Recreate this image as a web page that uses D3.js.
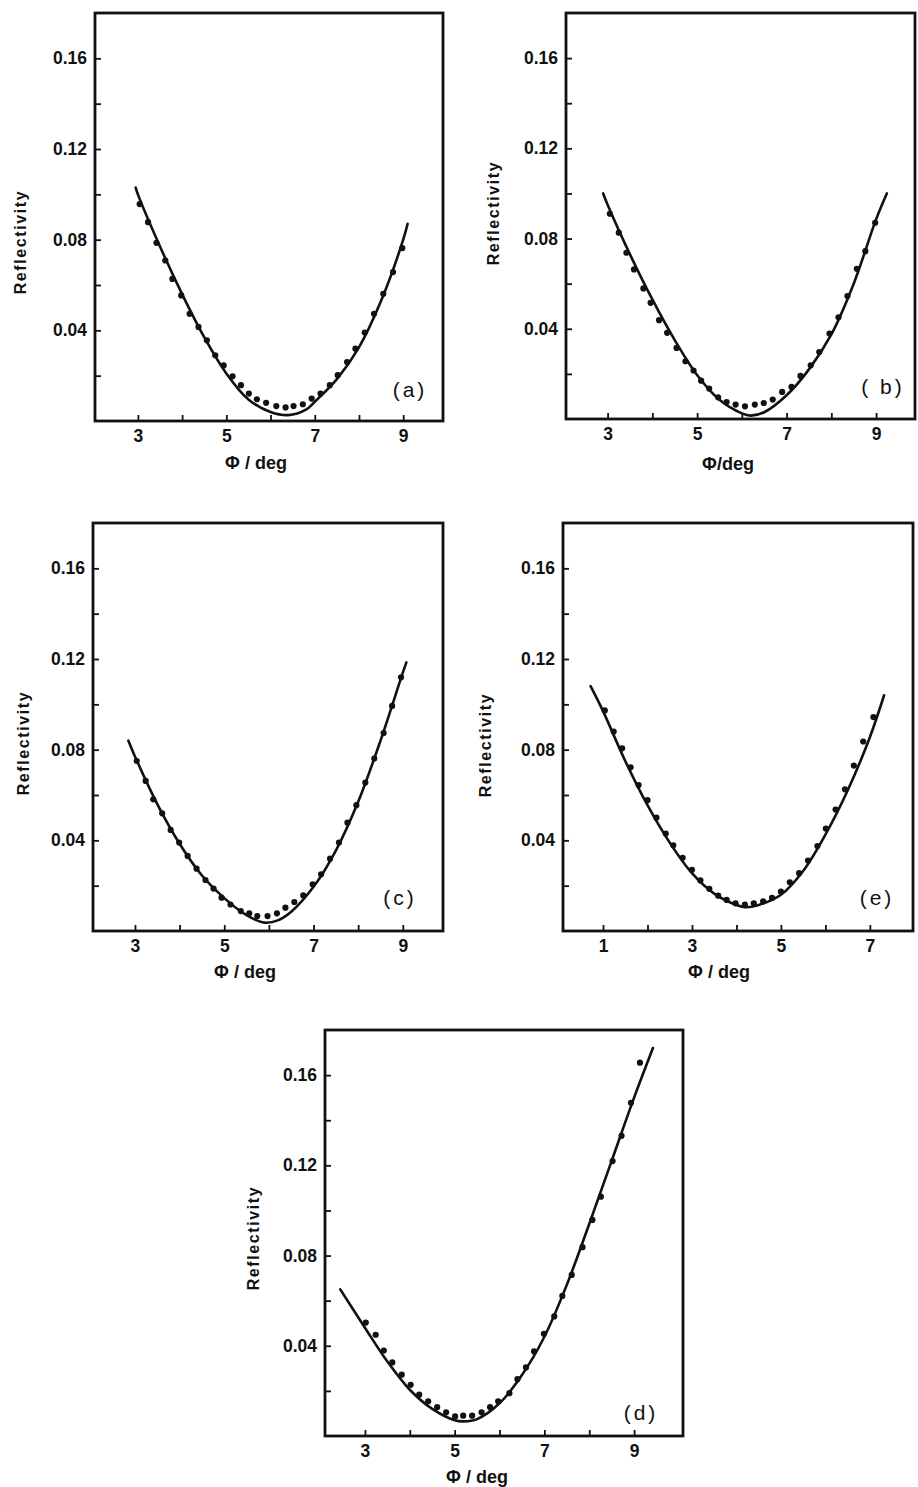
<!DOCTYPE html>
<html>
<head>
<meta charset="utf-8">
<script src="https://cdn.jsdelivr.net/npm/d3@7"></script>
<style>
  body { margin: 0; background: #fff; }
  svg text { font-family: "Liberation Sans", Arial, sans-serif; fill: #111; }
</style>
</head>
<body>
<div id="chart"></div>
<script>
// tick values
var yMajor = [0.04, 0.08, 0.12, 0.16],
    yMinor = [0.02, 0.06, 0.10, 0.14];
var xMajor = [3, 5, 7, 9], xMinor = [4, 6, 8];
var xMajorE = [1, 3, 5, 7], xMinorE = [2, 4, 6];

// (a) measured points + fitted curve
var phiA = [3.04,3.23,3.42,3.62,3.78,3.98,4.17,4.37,4.56,4.75,4.94,5.14,5.33,5.51,5.69,5.90,6.13,6.34,6.52,6.73,6.93,7.13,7.34,7.52,7.73,7.92,8.13,8.34,8.55,8.77,8.98];
var reflA = [0.0957,0.0877,0.0786,0.0708,0.0627,0.0554,0.0473,0.0415,0.0356,0.0290,0.0245,0.0197,0.0158,0.0121,0.0096,0.0080,0.0066,0.0060,0.0066,0.0074,0.0099,0.0121,0.0158,0.0202,0.0260,0.0319,0.0390,0.0473,0.0561,0.0657,0.0763];
var fitPhiA = [2.95,3.0,3.5,4.0,4.5,5.0,5.5,6.0,6.4,6.8,7.0,7.5,8.0,8.5,9.0,9.1];
var fitA = [0.103,0.100,0.077,0.056,0.037,0.021,0.0095,0.0040,0.0026,0.0050,0.0085,0.0185,0.0325,0.053,0.080,0.087];

// (b)
var phiB = [3.05,3.25,3.42,3.59,3.80,3.96,4.15,4.33,4.54,4.74,4.92,5.09,5.27,5.47,5.66,5.86,6.07,6.29,6.49,6.69,6.90,7.11,7.31,7.54,7.73,7.96,8.16,8.36,8.57,8.76,8.98];
var reflB = [0.0910,0.0826,0.0737,0.0663,0.0579,0.0515,0.0438,0.0382,0.0315,0.0256,0.0215,0.0170,0.0135,0.0096,0.0075,0.0064,0.0056,0.0064,0.0071,0.0086,0.0120,0.0142,0.0191,0.0238,0.0297,0.0379,0.0451,0.0545,0.0666,0.0744,0.0870];
var fitPhiB = [2.9,3.0,3.5,4.0,4.5,5.0,5.5,6.0,6.2,6.5,7.0,7.5,8.0,8.5,9.0,9.24];
var fitB = [0.100,0.095,0.073,0.053,0.035,0.0195,0.0085,0.0025,0.0015,0.0030,0.0105,0.022,0.0375,0.060,0.0885,0.100];

// (c)
var phiC = [3.04,3.24,3.41,3.61,3.80,3.99,4.18,4.38,4.58,4.76,4.94,5.14,5.37,5.56,5.74,5.97,6.18,6.37,6.57,6.77,6.98,7.17,7.37,7.57,7.76,7.96,8.16,8.36,8.57,8.76,8.96];
var reflC = [0.0750,0.0662,0.0581,0.0519,0.0446,0.0390,0.0331,0.0275,0.0225,0.0187,0.0147,0.0117,0.0088,0.0078,0.0066,0.0066,0.0078,0.0103,0.0128,0.0157,0.0206,0.0250,0.0319,0.0390,0.0478,0.0555,0.0655,0.0761,0.0873,0.0993,0.1119];
var fitPhiC = [2.85,3.0,3.5,4.0,4.5,5.0,5.5,5.9,6.2,6.5,7.0,7.5,8.0,8.5,9.0,9.08];
var fitC = [0.084,0.077,0.056,0.0385,0.0245,0.0145,0.0070,0.0037,0.0047,0.0085,0.0195,0.0355,0.0570,0.0840,0.1140,0.1185];

// (e)
var phiE = [1.04,1.24,1.43,1.62,1.80,2.00,2.20,2.41,2.58,2.79,3.00,3.19,3.39,3.59,3.78,3.98,4.19,4.39,4.60,4.80,5.00,5.20,5.41,5.61,5.82,6.01,6.23,6.44,6.64,6.85,7.08];
var reflE = [0.0973,0.0880,0.0806,0.0722,0.0644,0.0577,0.0500,0.0430,0.0378,0.0323,0.0270,0.0223,0.0186,0.0156,0.0137,0.0122,0.0116,0.0122,0.0131,0.0146,0.0174,0.0215,0.0255,0.0311,0.0375,0.0452,0.0536,0.0625,0.0730,0.0836,0.0944];
var fitPhiE = [0.72,1.0,1.5,2.0,2.5,3.0,3.5,4.0,4.2,4.5,5.0,5.5,6.0,6.5,7.0,7.32];
var fitE = [0.108,0.097,0.075,0.0555,0.039,0.0255,0.0165,0.0115,0.0105,0.0115,0.016,0.0265,0.0425,0.062,0.0855,0.104];

// (d)
var phiD = [3.02,3.24,3.42,3.61,3.82,4.02,4.21,4.41,4.61,4.81,5.01,5.19,5.39,5.60,5.79,5.97,6.22,6.40,6.59,6.77,6.99,7.22,7.40,7.61,7.85,8.07,8.26,8.52,8.72,8.93,9.13];
var reflD = [0.0503,0.0449,0.0379,0.0326,0.0272,0.0227,0.0183,0.0154,0.0128,0.0105,0.0087,0.0090,0.0090,0.0105,0.0128,0.0154,0.0190,0.0252,0.0304,0.0375,0.0453,0.0530,0.0621,0.0714,0.0837,0.0958,0.1061,0.1219,0.1331,0.1477,0.1655];
var fitPhiD = [2.45,3.0,3.5,4.0,4.5,5.0,5.2,5.5,6.0,6.5,7.0,7.5,8.0,8.5,9.0,9.42];
var fitD = [0.065,0.048,0.033,0.0205,0.0120,0.0070,0.0065,0.0075,0.0145,0.027,0.044,0.067,0.094,0.122,0.150,0.172];

// layout of each panel (page pixels)
var panels = [
  {tag: "(a)", phi: phiA, refl: reflA, fitPhi: fitPhiA, fit: fitA, xDomain: [2.03, 9.9],
   left: 95, right: 443, top: 13, bottom: 421, xMajor: xMajor, xMinor: xMinor,
   xTitle: "\u03A6 / deg", xTitleX: 256, xTitleY: 469, yTitleX: 20, yTitleY: 242, tagX: 410, tagY: 397},
  {tag: "( b)", phi: phiB, refl: reflB, fitPhi: fitPhiB, fit: fitB, xDomain: [2.07, 9.87],
   left: 566, right: 915, top: 13, bottom: 419, xMajor: xMajor, xMinor: xMinor,
   xTitle: "\u03A6/deg", xTitleX: 728, xTitleY: 470, yTitleX: 493, yTitleY: 213, tagX: 883, tagY: 394},
  {tag: "(c)", phi: phiC, refl: reflC, fitPhi: fitPhiC, fit: fitC, xDomain: [2.06, 9.9],
   left: 93, right: 443, top: 523, bottom: 931, xMajor: xMajor, xMinor: xMinor,
   xTitle: "\u03A6 / deg", xTitleX: 245, xTitleY: 978, yTitleX: 23, yTitleY: 743, tagX: 400, tagY: 905},
  {tag: "(e)", phi: phiE, refl: reflE, fitPhi: fitPhiE, fit: fitE, xDomain: [0.10, 7.97],
   left: 563, right: 913, top: 523, bottom: 931, xMajor: xMajorE, xMinor: xMinorE,
   xTitle: "\u03A6 / deg", xTitleX: 719, xTitleY: 978, yTitleX: 485, yTitleY: 745, tagX: 877, tagY: 905},
  {tag: "(d)", phi: phiD, refl: reflD, fitPhi: fitPhiD, fit: fitD, xDomain: [2.11, 10.09],
   left: 325, right: 683, top: 1030, bottom: 1436, xMajor: xMajor, xMinor: xMinor,
   xTitle: "\u03A6 / deg", xTitleX: 477, xTitleY: 1483, yTitleX: 253, yTitleY: 1238, tagX: 641, tagY: 1420}
];

var svg = d3.select("#chart")
  .append("svg")
    .attr("width", 918)
    .attr("height", 1487);

var ink = "#111";

panels.forEach(function(p) {
  var x = d3.scaleLinear().domain(p.xDomain).range([p.left, p.right]);
  var y = d3.scaleLinear().domain([0, 0.18]).range([p.bottom, p.top]);
  var g = svg.append("g");

  // x axis, ticks point inward
  var gx = g.append("g")
    .attr("transform", "translate(0," + p.bottom + ")")
    .call(d3.axisBottom(x)
      .tickValues(p.xMajor.concat(p.xMinor))
      .tickSizeInner(-6)
      .tickSizeOuter(0)
      .tickPadding(9)
      .tickFormat(function(d) { return p.xMajor.indexOf(d) >= 0 ? d : ""; }));
  gx.select(".domain").remove();

  // y axis
  var gy = g.append("g")
    .attr("transform", "translate(" + p.left + ",0)")
    .call(d3.axisLeft(y)
      .tickValues(yMajor.concat(yMinor))
      .tickSizeInner(-6)
      .tickSizeOuter(0)
      .tickPadding(8)
      .tickFormat(function(d) { return yMajor.indexOf(d) >= 0 ? d3.format(".2f")(d) : ""; }));
  gy.select(".domain").remove();

  [gx, gy].forEach(function(a) {
    a.attr("font-family", "Liberation Sans, Arial, sans-serif")
     .attr("font-size", 17.5)
     .attr("font-weight", "bold");
    a.selectAll("line").attr("stroke", ink).attr("stroke-width", 1.8);
  });

  // frame
  g.append("rect")
    .attr("x", p.left)
    .attr("y", p.top)
    .attr("width", p.right - p.left)
    .attr("height", p.bottom - p.top)
    .attr("fill", "none")
    .attr("stroke", ink)
    .attr("stroke-width", 2.8);

  // fitted curve
  var line = d3.line()
    .x(function(d, i) { return x(p.fitPhi[i]); })
    .y(function(d) { return y(d); })
    .curve(d3.curveCatmullRom.alpha(0.5));
  g.append("path")
    .attr("d", line(p.fit))
    .attr("fill", "none")
    .attr("stroke", ink)
    .attr("stroke-width", 2.6)
    .attr("stroke-linecap", "round");

  // measured points
  g.append("g")
    .selectAll("circle")
    .data(p.refl)
    .enter()
    .append("circle")
      .attr("cx", function(d, i) { return x(p.phi[i]); })
      .attr("cy", function(d) { return y(d); })
      .attr("r", 3.1)
      .attr("fill", ink);

  // axis titles
  g.append("text")
    .attr("x", p.xTitleX)
    .attr("y", p.xTitleY)
    .attr("text-anchor", "middle")
    .attr("font-size", 18)
    .attr("font-weight", "bold")
    .text(p.xTitle);

  g.append("text")
    .attr("transform", "translate(" + p.yTitleX + "," + p.yTitleY + ")rotate(-90)")
    .attr("dy", "0.35em")
    .attr("text-anchor", "middle")
    .attr("font-size", 16)
    .attr("font-weight", "bold")
    .attr("letter-spacing", 1.6)
    .text("Reflectivity");

  // panel tag
  g.append("text")
    .attr("x", p.tagX)
    .attr("y", p.tagY)
    .attr("text-anchor", "middle")
    .attr("font-size", 21)
    .attr("letter-spacing", 3)
    .text(p.tag);
});
</script>
</body>
</html>
